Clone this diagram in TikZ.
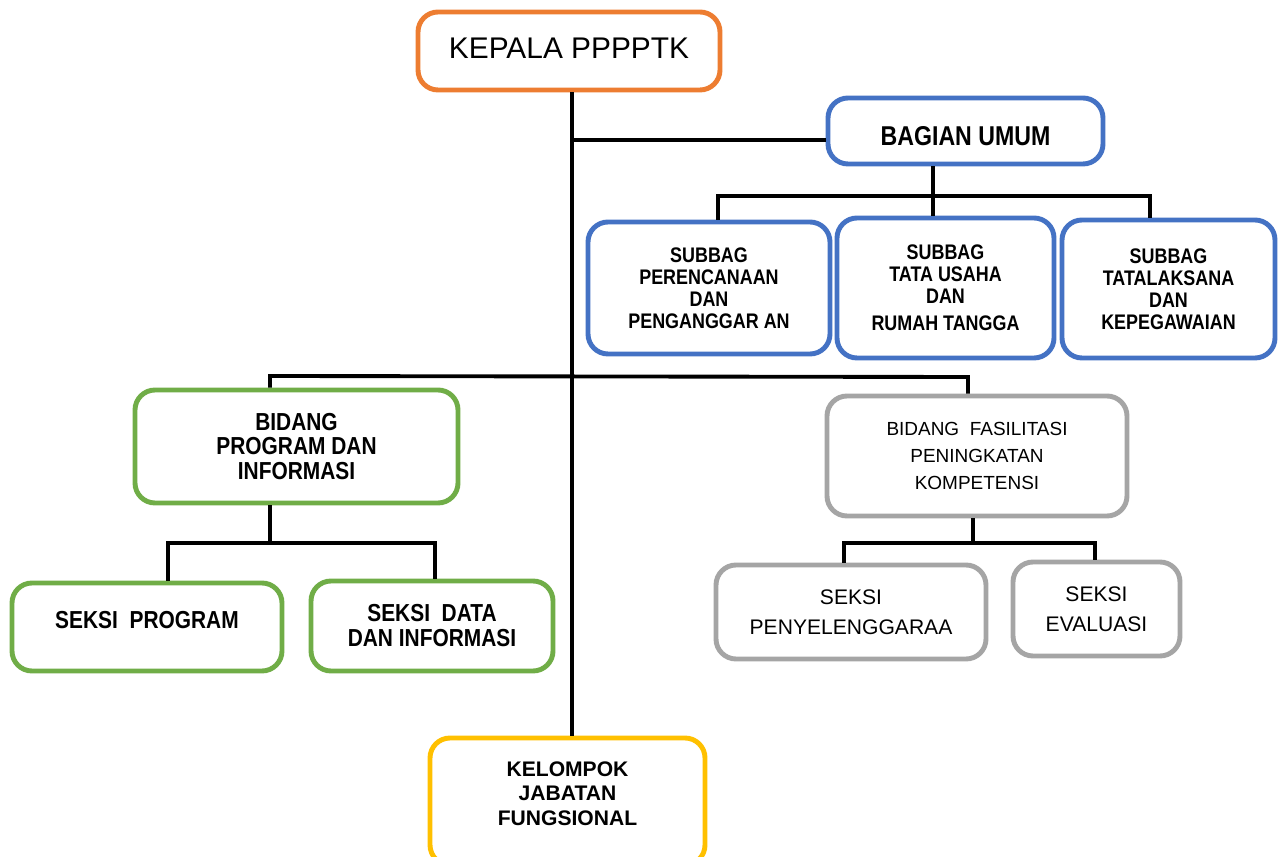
\documentclass[tikz,border=0pt]{standalone}
\usepackage{fontspec}
\setmainfont{Liberation Sans}
\newfontfamily\narrowfont{Liberation Sans}[FakeStretch=0.85]
\usetikzlibrary{positioning}
\definecolor{kOrange}{RGB}{237,125,49}
\definecolor{kBlue}{RGB}{68,114,196}
\definecolor{kGreen}{RGB}{112,173,71}
\definecolor{kGray}{RGB}{165,165,165}
\definecolor{kGold}{RGB}{255,192,0}
\tikzset{
  unit box/.style={
    draw=#1,
    fill=white,
    line width=2.8pt,
    rounded corners=0.4cm,
    align=center,
    inner sep=0pt,
  },
  box size/.style 2 args={
    minimum width={#1*0.02cm},
    minimum height={#2*0.02cm},
  },
  link/.style={
    line width=2.2pt,
  },
  bold text/.style 2 args={
    font=\fontsize{#1}{#2}\selectfont\bfseries,
  },
  narrow text/.style 2 args={
    font=\narrowfont\fontsize{#1}{#2}\selectfont\bfseries,
  },
  plain text/.style 2 args={
    font=\fontsize{#1}{#2}\selectfont,
  },
}

\begin{document}
\begin{tikzpicture}[x=0.02cm, y=-0.02cm]
        \clip (0,0) rectangle (1281,857);

        % junction points
        \coordinate (trunk) at (572,140);
        \coordinate (umumM) at (933,196);
        \coordinate (umumL) at (718,196);
        \coordinate (umumR) at (1150,196);
        \coordinate (bidL) at (270,376);
        \coordinate (bidR) at (968,377);
        \coordinate (progM) at (270,543);
        \coordinate (progL) at (168,543);
        \coordinate (progR) at (435,543);
        \coordinate (fasM) at (973,543);
        \coordinate (fasL) at (844,543);
        \coordinate (fasR) at (1095,543);

        \node [unit box=kOrange, box size={302}{78}, plain text={17pt}{20pt}, text depth=3.5pt] (kepala) at (569,51) {KEPALA PPPPTK};
        \node [unit box=kBlue, box size={275}{66}, narrow text={15.5pt}{18pt}, text height=16.6pt, text depth=0pt] (bagian) at (965.5,131) {BAGIAN UMUM};
        \node [unit box=kBlue, box size={242}{132}, narrow text={12pt}{12.5pt}] (sub1) at (709,288) {SUBBAG\\PERENCANAAN\\DAN\\PENGANGGAR AN};
        \node [unit box=kBlue, box size={217}{140}, narrow text={12pt}{12.5pt}] (sub2) at (945.5,288) {SUBBAG\\TATA USAHA\\DAN\\[3pt]RUMAH TANGGA};
        \node [unit box=kBlue, box size={213}{138}, narrow text={12pt}{12.5pt}] (sub3) at (1168.5,289) {SUBBAG\\TATALAKSANA\\DAN\\KEPEGAWAIAN};
        \node [unit box=kGreen, box size={323}{113}, narrow text={14pt}{14.2pt}] (prog) at (296.5,446.5) {BIDANG\\PROGRAM DAN\\INFORMASI};
        \node [unit box=kGreen, box size={270}{88}, narrow text={14pt}{14.2pt}, text depth=8pt] (seksiProg) at (147,627) {SEKSI\ \ PROGRAM};
        \node [unit box=kGreen, box size={242}{90}, narrow text={14pt}{14.2pt}] (seksiData) at (432,626) {SEKSI\ \ DATA\\DAN INFORMASI};
        \node [unit box=kGray, box size={300}{120}, plain text={10.8pt}{15.6pt}] (fasil) at (977,456) {BIDANG\ \ FASILITASI\\PENINGKATAN\\KOMPETENSI};
        \node [unit box=kGray, box size={270}{94}, plain text={12pt}{17pt}] (penyel) at (851,612) {SEKSI\\PENYELENGGARAA};
        \node [unit box=kGray, box size={167}{94}, plain text={12pt}{17pt}] (eval) at (1096.5,609) {SEKSI\\EVALUASI};
        \node [unit box=kGold, box size={275}{127}, bold text={12pt}{13.9pt}, text depth=9pt] (kelompok) at (567.5,801.5) {KELOMPOK\\JABATAN\\FUNGSIONAL};

        \draw [link] (kepala.south -| trunk) -- (trunk |- kelompok.north);
        \draw [link] (trunk) -- (trunk -| bagian.west);
        \draw [link] (bagian.south -| umumM) -- (umumM |- sub2.north);
        \draw [link] (umumL |- sub1.north) -- (umumL) -- (umumR) -- (umumR |- sub3.north);
        \draw [link] (bidL |- prog.north) -- (bidL) -- (bidR) -- (bidR |- fasil.north);
        \draw [link] (prog.south -| progM) -- (progM);
        \draw [link] (progL |- seksiProg.north) -- (progL) -- (progR) -- (progR |- seksiData.north);
        \draw [link] (fasil.south -| fasM) -- (fasM);
        \draw [link] (fasL |- penyel.north) -- (fasL) -- (fasR) -- (fasR |- eval.north);
      \end{tikzpicture}
\end{document}
